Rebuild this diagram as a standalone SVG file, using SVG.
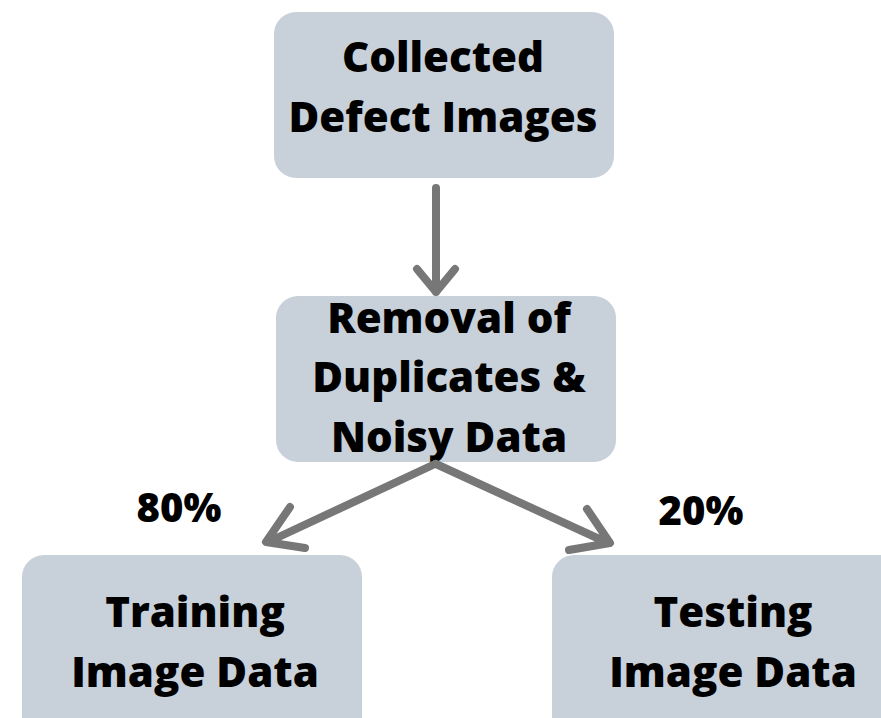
<svg xmlns="http://www.w3.org/2000/svg" width="881" height="718" viewBox="0 0 881 718">
<style>
.box{fill:#c8d0da}
.t{font-family:"Open Sans","Liberation Sans",sans-serif;font-weight:800;fill:#000;text-anchor:middle}
.c{fill:none;stroke:#777;stroke-width:8;stroke-linecap:round;stroke-linejoin:round}
</style>
<rect width="881" height="718" fill="#fff"/>
<g id="collected">
<rect class="box" x="274" y="12" width="340" height="166" rx="22"/>
<text class="t" x="443" y="72" font-size="42">Collected</text>
<text class="t" x="443" y="132" font-size="42">Defect Images</text>
</g>
<g id="removal">
<rect class="box" x="276" y="296" width="340" height="166" rx="22"/>
<text class="t" x="449" y="333" font-size="42">Removal of</text>
<text class="t" x="449" y="392" font-size="42">Duplicates &amp;</text>
<text class="t" x="449" y="452" font-size="42">Noisy Data</text>
</g>
<g id="training">
<rect class="box" x="22" y="555" width="340" height="190" rx="22"/>
<text class="t" x="195" y="627" font-size="42">Training</text>
<text class="t" x="195" y="687" font-size="42">Image Data</text>
</g>
<g id="testing">
<rect class="box" x="552" y="555" width="360" height="190" rx="22"/>
<text class="t" x="733" y="627" font-size="42">Testing</text>
<text class="t" x="733" y="687" font-size="42">Image Data</text>
</g>
<g id="labels">
<text class="t" x="179" y="522" font-size="40">80%</text>
<text class="t" x="701" y="525" font-size="40">20%</text>
</g>
<g id="connectors">
<path class="c" d="M436 188 V292 M417 269 L436 292 L455 269"/>
<path class="c" d="M435 464 L268 542 M290 507 L266 542 L305 548"/>
<path class="c" d="M436 464 L608 543 M587 509 L610 543 L569 550"/>
</g>
</svg>
